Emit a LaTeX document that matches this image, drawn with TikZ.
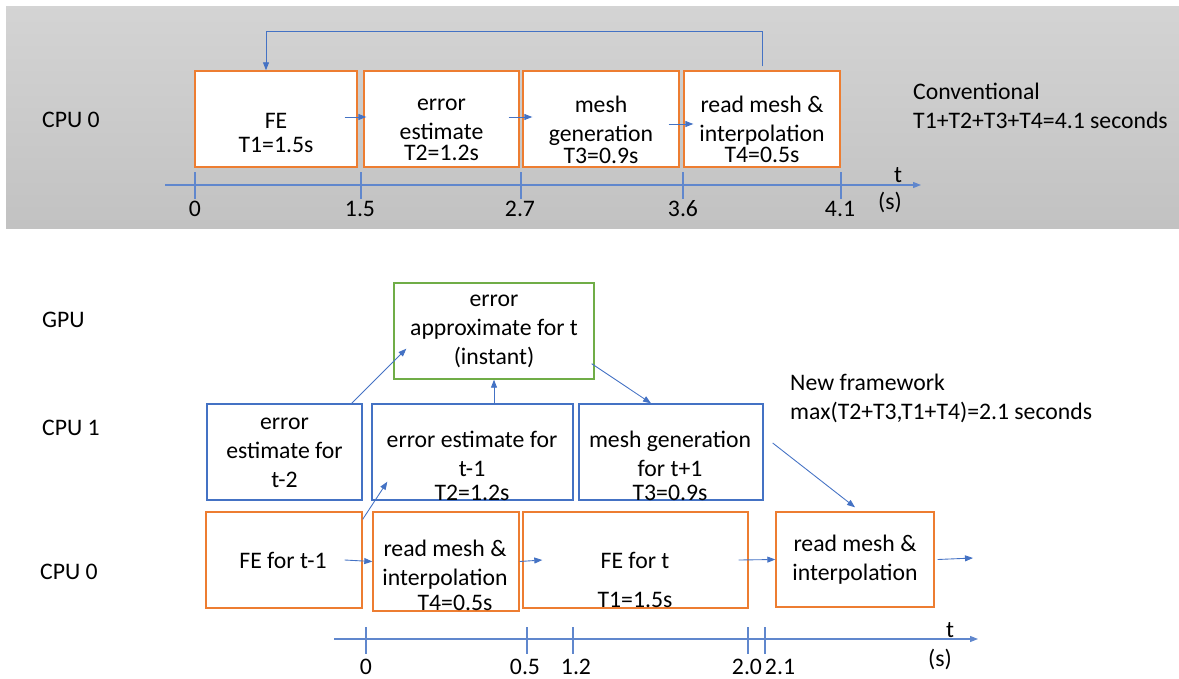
\documentclass[tikz,border=0pt]{standalone}
\usepackage{fontspec}
\setmainfont{Carlito}
\usetikzlibrary{arrows.meta}
\definecolor{boxorange}{HTML}{ED7D31}
\definecolor{boxblue}{HTML}{4472C4}
\definecolor{boxgreen}{HTML}{70AD47}
\definecolor{arrowblue}{HTML}{4472C4}
\newcommand{\txtfont}{\fontsize{13.5}{16.5}\selectfont\lineskiplimit=-20pt}

\begin{document}
\begin{tikzpicture}[x=0.02cm,y=-0.02cm,>={Triangle[length=0.16cm,width=0.12cm]},font=\txtfont]
    \tikzstyle{cpuzero} = [draw=boxorange,line width=0.8pt,fill=white,inner sep=0pt,minimum height=1.92cm]
    \tikzstyle{cpuone} = [draw=boxblue,line width=0.8pt,fill=white,inner sep=0pt,minimum height=1.92cm]
    \tikzstyle{gpubox} = [draw=boxgreen,line width=0.8pt,fill=white,inner sep=0pt,minimum height=1.92cm]
    \tikzstyle{txt} = [align=center,inner sep=0pt]
    \tikzstyle{flow} = [->,draw=arrowblue,line width=0.5pt]
    \tikzstyle{timeline} = [draw=arrowblue!85,line width=0.6pt]

    \useasboundingbox (0,0) rectangle (1179,679);
    \shade[top color=black!17,bottom color=black!24] (6,7) rectangle (1179,228);

    % conventional
    \node[anchor=west] (cpu0a) at (36,120) {CPU 0};

    \node[cpuzero,minimum width=3.24cm] (fe) at (276,119){};
    \node[cpuzero,minimum width=3.10cm] (ee) at (441.5,119){};
    \node[cpuzero,minimum width=3.12cm] (me) at (601,119){};
    \node[cpuzero,minimum width=3.12cm] (rd) at (762,119){};

    \node[txt] (tfe) at (276,133) {FE\\[-0.1cm]T1=1.5s};
    \node[txt] (tee) at (441.5,130) {error\\estimate\\[-0.15cm]T2=1.2s};
    \node[txt] (tme) at (601,130) {mesh\\generation\\[-0.15cm]T3=0.9s};
    \node[txt] (trd) at (762,129.5) {read mesh \&\\interpolation\\[-0.15cm]T4=0.5s};

    \draw[flow] ([xshift=-0.26cm,yshift=0.04cm]fe.east) -- ([xshift=0.06cm,yshift=0.04cm]ee.west);
    \draw[flow] ([xshift=-0.22cm,yshift=0.04cm]ee.east) -- ([xshift=0.2cm,yshift=0.04cm]me.west);
    \draw[flow] ([xshift=-0.22cm,yshift=-0.1cm]me.east) -- ([xshift=0.2cm,yshift=-0.1cm]rd.west);
    \draw[flow] ([yshift=0.08cm]rd.north) -- ++(0,-35) -| ([xshift=-0.2cm]fe.north);

    \coordinate (ta0) at (165,185);
    \coordinate (ta1) at (921,185);
    \draw[timeline,->] (ta0) -- (ta1);
    \foreach \x/\lx/\v [count=\i] in {195/195/0,361/360/1.5,521/520/2.7,683/683/3.6,841/840/4.1}{
        \draw[timeline] (\x,172) -- (\x,199);
        \node (tka\i) at (\lx,209) {\v};
    }
    \node (tta) at (898,175) {t};
    \node (tsa) at (890,202) {(s)};

    \node[anchor=west,align=left] (conv) at (907,106) {Conventional\\T1+T2+T3+T4=4.1 seconds};

    % new framework
    \node[anchor=west] (gpul) at (36,320) {GPU};
    \node[anchor=west] (cpu1b) at (36,428) {CPU 1};
    \node[anchor=west] (cpu0b) at (34,572) {CPU 0};

    \node[gpubox,minimum width=4.00cm] (gpu) at (494,331){};
    \node[cpuone,minimum width=3.10cm] (b1) at (284.5,452){};
    \node[cpuone,minimum width=4.02cm] (b2) at (472.5,452){};
    \node[cpuone,minimum width=3.68cm] (b3) at (671,452){};
    \node[cpuzero,minimum width=3.12cm] (fe1) at (284,560){};
    \node[cpuzero,minimum width=2.92cm,minimum height=1.98cm] (rd1) at (446,561.5){};
    \node[cpuzero,minimum width=4.50cm] (fe2) at (635.5,560){};
    \node[cpuzero,minimum width=3.16cm,minimum height=1.90cm] (r2) at (855,559.5){};

    \node[txt] (tgpu) at (494,331) {error\\approximate for t\\(instant)};
    \node[txt] (tb1) at (284.5,452.5) {error\\estimate for\\t-2};
    \node[txt] (tb2) at (472,465.5) {error estimate for\\t-1\\[-0.1cm]T2=1.2s};
    \node[txt] (tb3) at (670,465.5) {mesh generation\\for t+1\\[-0.1cm]T3=0.9s};
    \node[txt] (tfe1) at (283,560) {FE for t-1};
    \node[txt] (trd1) at (445,575) {read mesh \&\\interpolation\\[-0.08cm]\hspace*{0.4cm}T4=0.5s};
    \node[txt] (tfe2) at (635,579.5) {FE for t\\[0.2cm]T1=1.5s};
    \node[txt] (tr2) at (855,559.5) {read mesh \&\\interpolation};

    \node[anchor=west,align=left] (newf) at (784,398) {New framework\\max(T2+T3,T1+T4)=2.1 seconds};

    \draw[flow] ([xshift=-0.22cm]b1.north east) -- ([xshift=0.26cm,yshift=0.62cm]gpu.south west);
    \draw[flow] (gpu.south |- b2.north) -- (gpu.south);
    \draw[flow] ([xshift=-0.06cm,yshift=0.32cm]gpu.south east) -- ([xshift=-0.4cm]b3.north);
    \draw[flow] ([xshift=0.18cm,yshift=0.18cm]b3.east) -- ([yshift=0.08cm]r2.north);
    \draw[flow] ([yshift=-0.16cm]fe1.north east) -- ([xshift=0.32cm,yshift=0.38cm]b2.south west);

    \draw[flow] ([xshift=-0.36cm]fe1.east) -- (rd1.west);
    \draw[flow] (rd1.east) -- ([xshift=0.4cm]fe2.west);
    \draw[flow] ([xshift=-0.2cm]fe2.east) -- (r2.west);
    \coordinate (out) at (973,558);
    \draw[flow] ([xshift=0.06cm]r2.east) -- (out);

    \coordinate (tb0) at (334,639);
    \coordinate (tb9) at (978,639);
    \draw[timeline,->] (tb0) -- (tb9);
    \foreach \x/\lx/\v [count=\i] in {366/366/0,527/525/0.5,573/576/1.2,748/747/2.0,765/780/2.1}{
        \draw[timeline] (\x,627) -- (\x,654);
        \node (tkb\i) at (\lx,667) {\v};
    }
    \node (ttb) at (950,630) {t};
    \node (tsb) at (940,659) {(s)};

\end{tikzpicture}
\end{document}
